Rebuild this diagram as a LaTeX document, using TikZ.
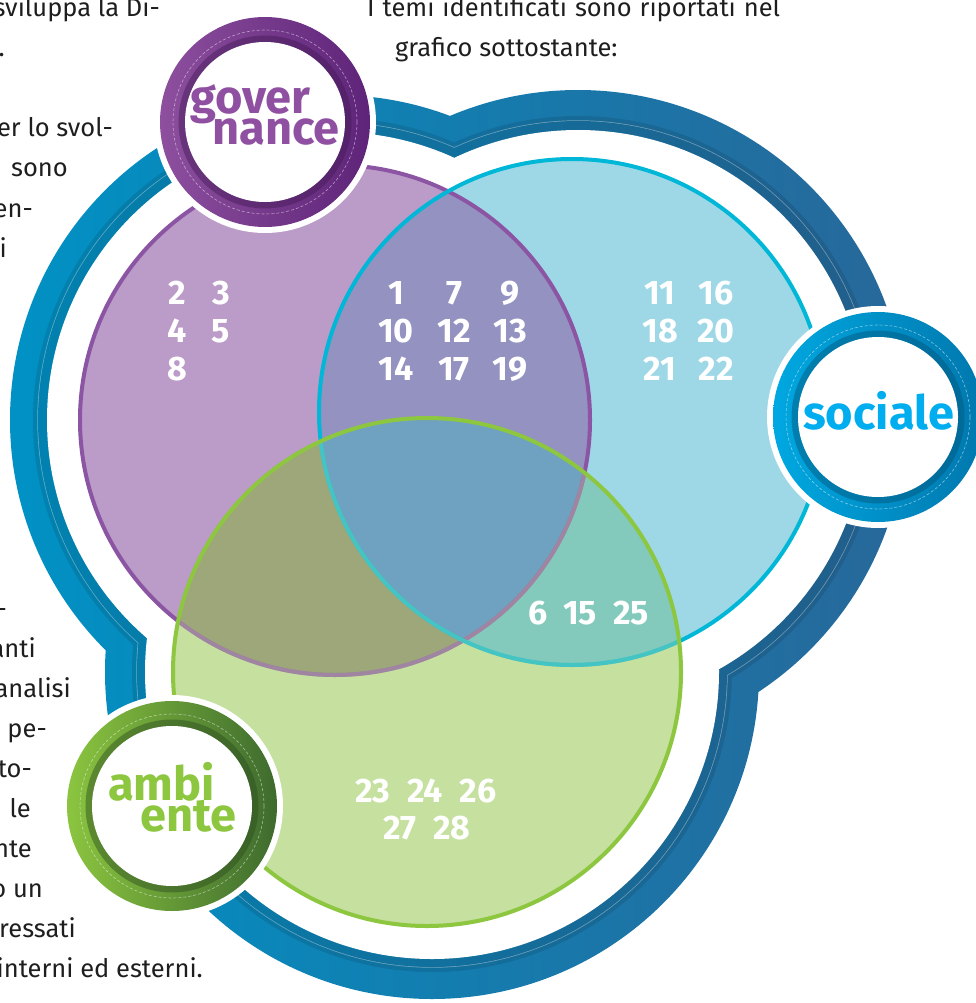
\documentclass[tikz,border=0pt]{standalone}
\usepackage{fontspec}
\setmainfont{Fira Sans}
\definecolor{bandL}{HTML}{0092C5}
\definecolor{bandR}{HTML}{2B6496}
\definecolor{pfill}{HTML}{BB9BC8}
\definecolor{cfill}{HTML}{9ED8E7}
\definecolor{gfill}{HTML}{C5E09F}
\definecolor{pcfill}{HTML}{9492C0}
\definecolor{pgfill}{HTML}{9EA77A}
\definecolor{cgfill}{HTML}{83CABC}
\definecolor{pcgfill}{HTML}{6FA1C0}
\definecolor{pline}{HTML}{8B55A3}
\definecolor{cline}{HTML}{00B7D7}
\definecolor{gline}{HTML}{8DC63F}
\definecolor{govL}{HTML}{8D4F9E}
\definecolor{govR}{HTML}{5E2479}
\definecolor{socL}{HTML}{00A8E1}
\definecolor{socR}{HTML}{0078AE}
\definecolor{ambL}{HTML}{8BC53F}
\definecolor{ambR}{HTML}{3E6B2E}
\definecolor{govtext}{HTML}{9050A2}
\definecolor{soctext}{HTML}{00ADEF}
\definecolor{ambtext}{HTML}{8DC63F}
\definecolor{ink}{HTML}{1E1E1E}
% outer band = union of three discs around the three sets
\newcommand{\ringpath}[3]{(335,420) circle[radius=#1pt] (578,418) circle[radius=#2pt] (432,672) circle[radius=#3pt]}
% round label badge: centre, left colour, right colour
\newcommand{\badge}[3]{
	\fill[white] (#1) circle[radius=111pt];
	\shade[left color=#2,right color=#3] (#1) circle[radius=105pt];
	\draw[#3!70!black,opacity=.45,line width=7pt] (#1) circle[radius=83pt];
	\draw[white,opacity=.5,line width=.6pt,dash pattern=on 3pt off 2pt] (#1) circle[radius=92pt];
	\fill[white] (#1) circle[radius=80pt];
}
\tikzset{
	body/.style={font=\fontsize{25.5}{25.5}\selectfont,text=ink,inner sep=0pt},
	num/.style={font=\fontsize{34}{34}\selectfont\bfseries,text=white,inner sep=0pt},
	lbl/.style={font=\fontsize{47}{47}\selectfont\bfseries,inner sep=0pt,anchor=base west},
}
\begin{document}
\begin{tikzpicture}[x=1pt,y=-1pt]
	\useasboundingbox (0,0) rectangle (976,1003);
	% blue band
	\begin{scope}
		\clip \ringpath{325}{328}{327};
		\shade[left color=bandL,right color=bandR] (0,0) rectangle (976,1003);
	\end{scope}
	\fill[white,opacity=.45] \ringpath{297.7}{297.7}{295.7};
	\begin{scope}
		\clip \ringpath{297}{297}{295};
		\shade[left color=bandL,right color=bandR] (0,0) rectangle (976,1003);
	\end{scope}
	\fill[black,opacity=.1] \ringpath{302}{302}{300};
	\fill[white] \ringpath{288}{288}{287};
	% the three sets
	\coordinate (P) at (335,420);
	\coordinate (C) at (572,412);
	\coordinate (G) at (427,672);
	\fill[pfill] (P) circle[radius=255pt];
	\fill[cfill] (C) circle[radius=253pt];
	\fill[gfill] (G) circle[radius=254pt];
	\begin{scope}
		\clip (C) circle[radius=253pt];
		\fill[cgfill] (G) circle[radius=254pt];
	\end{scope}
	\begin{scope}
		\clip (P) circle[radius=255pt];
		\fill[pcfill] (C) circle[radius=253pt];
		\fill[pgfill] (G) circle[radius=254pt];
		\clip (C) circle[radius=253pt];
		\fill[pcgfill] (G) circle[radius=254pt];
	\end{scope}
	\draw[pline,line width=4pt] (P) circle[radius=255pt];
	\draw[cline,line width=4pt] (C) circle[radius=253pt];
	\begin{scope}
		\clip (G) circle[radius=254pt];
		\draw[gfill,opacity=.35,line width=4pt] (P) circle[radius=255pt] (C) circle[radius=253pt];
	\end{scope}
	\draw[gline,line width=4pt] (G) circle[radius=254pt];
	% numbers
	\foreach \nn/\x/\y in {2/177/293,3/221/293,4/177/331,5/221/331,8/177/369,
		1/396/293,7/454/293,9/510/293,10/396/331,12/454/331,13/510/331,14/396/369,17/454/369,19/510/369,
		11/660/293,16/716/293,18/660/331,20/716/331,21/660/369,22/716/369,
		6/538/613,15/580/613,25/631/613,
		23/373/791,24/425/791,26/478/791,27/400/828,28/452/828}
		\node[num] (n\nn) at (\x,\y) {\nn};
	% badges
	\coordinate (gov) at (265,122);
	\coordinate (soc) at (878,417);
	\coordinate (amb) at (172,806);
	\badge{gov}{govL}{govR}
	\badge{soc}{socL}{socR}
	\badge{amb}{ambL}{ambR}
	\node[lbl,text=govtext] (gover) at (190,114) {gover};
	\node[lbl,text=govtext] (nance) at (212,145) {nance};
	\node[lbl,text=soctext] (sociale) at (803,429) {sociale};
	\node[lbl,text=ambtext] (ambi) at (108,800) {ambi};
	\node[lbl,text=ambtext] (ente) at (140,831) {ente};
	% running text
	\node[body,anchor=base east] (t1) at (160,17) {sviluppa la Di-};
	\node[body,anchor=base east] (t2) at (5,57) {.};
	\node[body,anchor=base east] (t3) at (113,137) {er lo svol-};
	\node[body,anchor=base east] (t4) at (68,177) {sono};
	\node[body,anchor=base east] (t5) at (33,217) {en-};
	\node[body,anchor=base east] (t6) at (7,257) {li};
	\node[body,anchor=base east] (t7) at (7,617) {-};
	\node[body,anchor=base east] (t8) at (36,657) {anti};
	\node[body,anchor=base east] (t9) at (71,697) {analisi};
	\node[body,anchor=base east] (t10) at (47,737) {pe-};
	\node[body,anchor=base east] (t11) at (32,777) {to-};
	\node[body,anchor=base east] (t12) at (31,817) {le};
	\node[body,anchor=base east] (t13) at (32,857) {nte};
	\node[body,anchor=base east] (t14) at (43,897) {o un};
	\node[body,anchor=base east] (t15) at (76,937) {ressati};
	\node[body,anchor=base east] (t16) at (203,977) {interni ed esterni.};
	\node[body,anchor=base west] (r1) at (367,17) {\makebox[413pt][s]{I temi identificati sono riportati nel}};
	\node[body,anchor=base west] (r2) at (395,57) {grafico sottostante:};
\end{tikzpicture}
\end{document}
